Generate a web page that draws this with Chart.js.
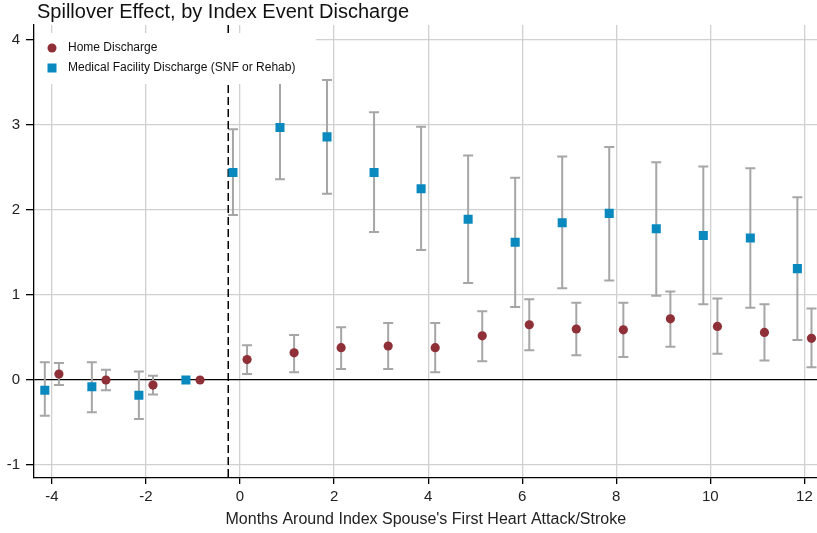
<!DOCTYPE html>
<html>
<head>
<meta charset="utf-8">
<script src="https://cdn.jsdelivr.net/npm/chart.js@4.4.1/dist/chart.umd.min.js"></script>
<style>
  html, body { margin: 0; padding: 0; background: #fff; overflow: hidden; }
  /* a few px wider than the window: Chart.js keeps a small right margin for the last x label */
  #wrap { width: 824px; height: 533px; }
</style>
</head>
<body>
<div id="wrap"><canvas id="chart"></canvas></div>
<script>
// Data
const periods = [-4, -3, -2, -1, 0, 1, 2, 3, 4, 5, 6, 7, 8, 9, 10, 11, 12];

const homeEst = [0.07, 0.00, -0.06, 0.00, 0.24, 0.32, 0.38, 0.40, 0.38, 0.52, 0.65, 0.60, 0.59, 0.72, 0.63, 0.56, 0.49];
const homeLo  = [-0.06, -0.12, -0.17, null, 0.07, 0.09, 0.13, 0.13, 0.09, 0.22, 0.35, 0.29, 0.27, 0.39, 0.31, 0.23, 0.15];
const homeHi  = [0.20, 0.12, 0.05, null, 0.41, 0.53, 0.62, 0.67, 0.67, 0.81, 0.95, 0.91, 0.91, 1.04, 0.96, 0.89, 0.84];

const medEst = [-0.12, -0.08, -0.18, 0.00, 2.44, 2.97, 2.86, 2.44, 2.25, 1.89, 1.62, 1.85, 1.96, 1.78, 1.70, 1.67, 1.31];
const medLo  = [-0.42, -0.38, -0.46, null, 1.94, 2.36, 2.19, 1.74, 1.53, 1.14, 0.86, 1.08, 1.17, 0.99, 0.89, 0.85, 0.47];
const medHi  = [0.21, 0.21, 0.10, null, 2.95, 3.58, 3.53, 3.15, 2.98, 2.64, 2.38, 2.63, 2.74, 2.56, 2.51, 2.49, 2.15];

const xTicks = [-4, -2, 0, 2, 4, 6, 8, 10, 12];
const yTicks = [-1, 0, 1, 2, 3, 4];

const homeShift = 0.15;
const medShift = -0.15;
const eventLine = -0.25;

const homeColor = '#8f2f38';
const medColor = '#0a89bf';
const barColor = '#a6a6a6';
const fontFamily = '"Liberation Sans", Arial, Helvetica, sans-serif';

const homePoints = periods.map((p, i) => ({ x: p + homeShift, y: homeEst[i] }));
const medPoints = periods.map((p, i) => ({ x: p + medShift, y: medEst[i] }));

// error bars, drawn before the markers
const errorBars = {
    id: 'errorBars',
    beforeDatasetsDraw(chart) {
        const { ctx, scales: { x, y } } = chart;
        ctx.save();
        ctx.strokeStyle = barColor;
        ctx.lineWidth = 2;
        const draw = (shift, lo, hi) => {
            periods.forEach((p, i) => {
                if (lo[i] == null || hi[i] == null) return;
                const px = x.getPixelForValue(p + shift);
                const y1 = y.getPixelForValue(lo[i]);
                const y2 = y.getPixelForValue(hi[i]);
                ctx.beginPath();
                ctx.moveTo(px, y1); ctx.lineTo(px, y2);
                ctx.moveTo(px - 5, y1); ctx.lineTo(px + 5, y1);
                ctx.moveTo(px - 5, y2); ctx.lineTo(px + 5, y2);
                ctx.stroke();
            });
        };
        draw(medShift, medLo, medHi);
        draw(homeShift, homeLo, homeHi);

        // event line
        const ex = x.getPixelForValue(eventLine);
        ctx.strokeStyle = '#000';
        ctx.lineWidth = 1.5;
        ctx.setLineDash([8, 4]);
        ctx.beginPath();
        ctx.moveTo(ex, chart.chartArea.top);
        ctx.lineTo(ex, chart.chartArea.bottom);
        ctx.stroke();
        ctx.restore();
    }
};

// title and boxed legend inside the plot
const decorations = {
    id: 'decorations',
    afterDraw(chart) {
        const { ctx, chartArea } = chart;
        ctx.save();
        ctx.fillStyle = '#111';
        ctx.font = '20px ' + fontFamily;
        ctx.textBaseline = 'alphabetic';
        ctx.textAlign = 'left';
        ctx.fillText('Spillover Effect, by Index Event Discharge', 37, 18);

        const lx = chartArea.left + 1;
        ctx.fillStyle = '#fff';
        ctx.fillRect(lx, 33, 316 - lx, 51);

        ctx.fillStyle = homeColor;
        ctx.beginPath();
        ctx.arc(52, 48, 4.5, 0, Math.PI * 2);
        ctx.fill();
        ctx.fillStyle = medColor;
        ctx.fillRect(47.5, 63.5, 9, 9);

        ctx.fillStyle = '#111';
        ctx.font = '12px ' + fontFamily;
        ctx.textBaseline = 'middle';
        ctx.fillText('Home Discharge', 68, 48);
        ctx.fillText('Medical Facility Discharge (SNF or Rehab)', 68, 68);
        ctx.restore();
    }
};

new Chart(document.getElementById('chart'), {
    type: 'scatter',
    data: {
        datasets: [
            {
                label: 'Medical Facility Discharge (SNF or Rehab)',
                data: medPoints,
                pointStyle: 'rect',
                pointRadius: 6.4,
                backgroundColor: medColor,
                borderColor: medColor,
                borderWidth: 0
            },
            {
                label: 'Home Discharge',
                data: homePoints,
                pointStyle: 'circle',
                pointRadius: 4.6,
                backgroundColor: homeColor,
                borderColor: homeColor,
                borderWidth: 0
            }
        ]
    },
    options: {
        responsive: true,
        maintainAspectRatio: false,
        animation: false,
        layout: { padding: { top: 25, right: 0, left: 0, bottom: 0 } },
        plugins: {
            legend: { display: false },
            title: { display: false },
            tooltip: { enabled: false }
        },
        scales: {
            x: {
                type: 'linear',
                min: -4.38,
                max: 12.28,
                afterBuildTicks: (scale) => { scale.ticks = xTicks.map(v => ({ value: v })); },
                afterFit: (scale) => { scale.height = 55; },
                ticks: {
                    color: '#222',
                    font: { family: fontFamily, size: 15 },
                    padding: 4,
                    maxRotation: 0
                },
                grid: {
                    color: '#d0d0d0',
                    lineWidth: 1.3,
                    tickColor: '#000',
                    tickLength: 6
                },
                border: { color: '#000', width: 1.3 },
                title: {
                    display: true,
                    text: "Months Around Index Spouse's First Heart Attack/Stroke",
                    color: '#222',
                    font: { family: fontFamily, size: 16 },
                    padding: { top: 2, bottom: 3.5 }
                }
            },
            y: {
                type: 'linear',
                min: -1.153,
                max: 4.176,
                afterBuildTicks: (scale) => { scale.ticks = yTicks.map(v => ({ value: v })); },
                afterFit: (scale) => { scale.width = 34; },
                ticks: {
                    color: '#222',
                    font: { family: fontFamily, size: 15 },
                    padding: 6
                },
                grid: {
                    color: (c) => c.tick && c.tick.value === 0 ? '#000' : '#d0d0d0',
                    lineWidth: 1.3,
                    tickColor: '#000',
                    tickLength: 8
                },
                border: { color: '#000', width: 1.3 }
            }
        }
    },
    plugins: [errorBars, decorations]
});
</script>
</body>
</html>
